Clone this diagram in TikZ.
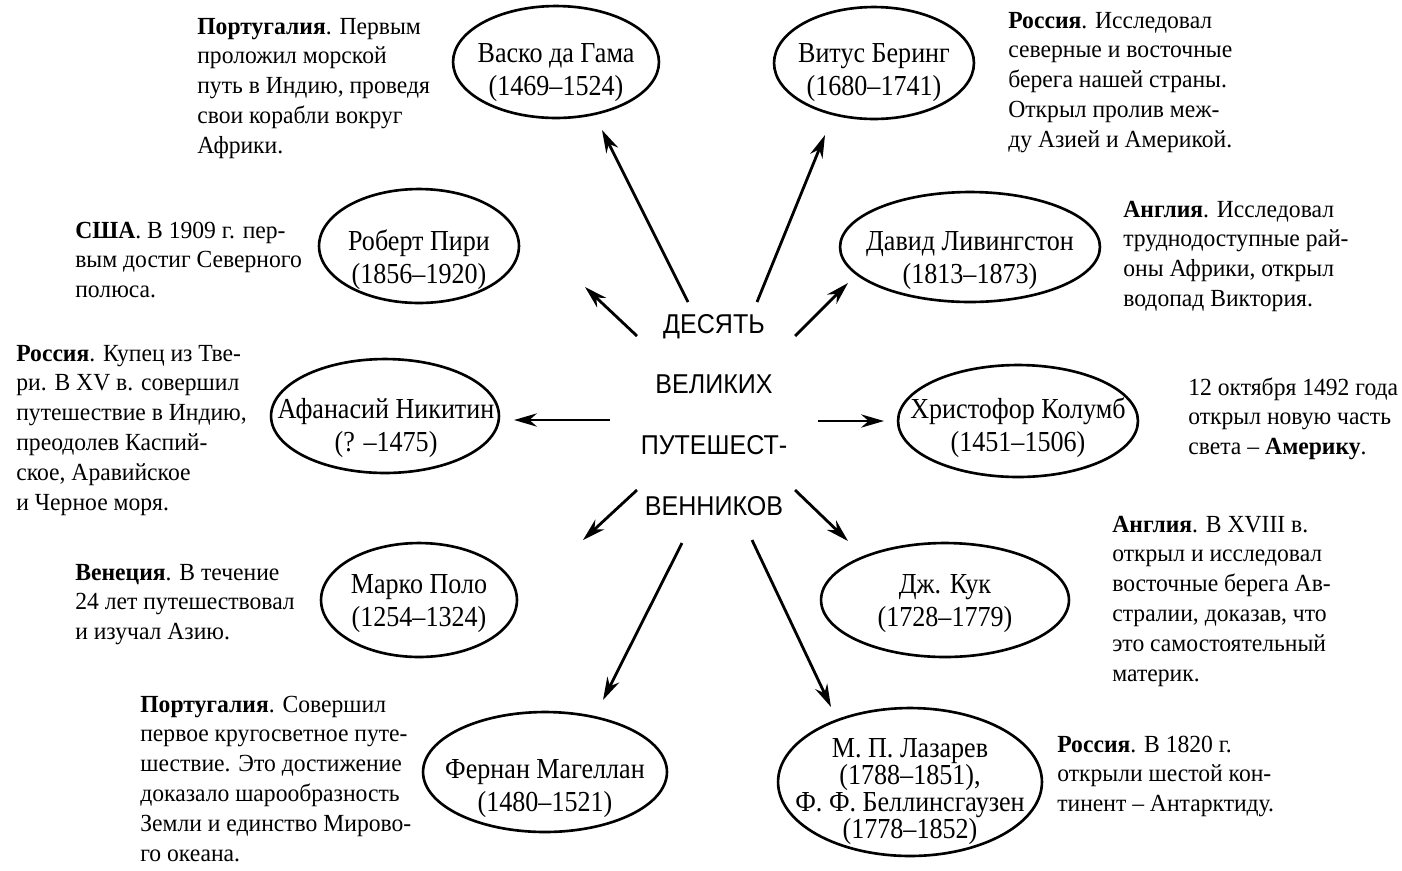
\documentclass[tikz,border=0pt]{standalone}
\usepackage{fontspec}
\setmainfont[FakeStretch=0.96]{Liberation Serif}
\newfontfamily\ellf[FakeStretch=0.9]{Liberation Serif}
\newfontfamily\sansf[FakeStretch=0.92]{Liberation Sans}
\usetikzlibrary{shapes.geometric,arrows.meta}
\newcommand{\blkL}[1]{\vtop{\lineskiplimit=-50pt\halign{##\hfil\cr#1\crcr}}}
\newcommand{\blkC}[1]{\vtop{\lineskiplimit=-50pt\halign{\hfil##\hfil\cr#1\crcr}}}
\begin{document}
\begin{tikzpicture}[x=0.02cm,y=-0.02cm,
  ell/.style 2 args={draw, ellipse, line width=1.5pt, inner sep=0pt, outer sep=0pt,
    minimum width={#1*0.04cm}, minimum height={#2*0.04cm}},
  etext/.style={anchor=base, inner sep=0pt, font=\ellf\fontsize{16.5}{19.3}\selectfont},
  ltext/.style={anchor=base, inner sep=0pt, font=\ellf\fontsize{16.5}{15.4}\selectfont},
  desc/.style={anchor=base west, inner sep=0pt, font=\fontsize{14}{17}\selectfont},
  ttl/.style={anchor=base, inner sep=0pt, font=\sansf\fontsize{15.5}{18}\selectfont},
  arr/.style={line width=1.6pt, -{Stealth[length=13pt,width=7.5pt]}}]
\useasboundingbox (0,0) rectangle (1402,870);

% ellipses
\node[ell={103}{56}] (vasco) at (556,62) {};
\node[ell={100}{56}] (bering) at (874,63) {};
\node[ell={100}{57}] (piri) at (419,246) {};
\node[ell={130}{55}] (living) at (970,247) {};
\node[ell={114}{57}] (nikitin) at (385,416) {};
\node[ell={120}{56}] (columb) at (1018,421) {};
\node[ell={98}{57}] (marco) at (419,600) {};
\node[ell={124}{57}] (cook) at (945,600) {};
\node[ell={122}{60}] (magellan) at (545,772) {};
\node[ell={132}{74}] (lazarev) at (910,782) {};

% ellipse texts
\node[etext] (vascoT) at (556,62) {\blkC{Васко да Гама\cr(1469–1524)}};
\node[etext] (beringT) at (874,62) {\blkC{Витус Беринг\cr(1680–1741)}};
\node[etext] (piriT) at (419,250) {\blkC{Роберт Пири\cr(1856–1920)}};
\node[etext] (livingT) at (970,250) {\blkC{Давид Ливингстон\cr(1813–1873)}};
\node[etext] (nikitinT) at (386,418) {\blkC{Афанасий Никитин\cr(? –1475)}};
\node[etext] (columbT) at (1018,418) {\blkC{Христофор Колумб\cr(1451–1506)}};
\node[etext] (marcoT) at (419,593) {\blkC{Марко Поло\cr(1254–1324)}};
\node[etext] (cookT) at (945,593) {\blkC{Дж. Кук\cr(1728–1779)}};
\node[etext] (magellanT) at (545,778) {\blkC{Фернан Магеллан\cr(1480–1521)}};
\node[ltext] (lazarevT) at (910,757) {\blkC{М. П. Лазарев\cr(1788–1851),\cr Ф. Ф. Беллинсгаузен\cr(1778–1852)}};

% centre title
\node[ttl] (t1) at (714,333) {ДЕСЯТЬ};
\node[ttl] (t2) at (714,393) {ВЕЛИКИХ};
\node[ttl] (t3) at (714,454) {ПУТЕШЕСТ-};
\node[ttl] (t4) at (714,515) {ВЕННИКОВ};

% descriptions
\node[desc] (dVasco) at (197,34) {\blkL{\textbf{Португалия}. Первым\cr проложил морской\cr путь в Индию, проведя\cr свои корабли вокруг\cr Африки.}};
\node[desc] (dBering) at (1008,28) {\blkL{\textbf{Россия}. Исследовал\cr северные и восточные\cr берега нашей страны.\cr Открыл пролив меж-\cr ду Азией и Америкой.}};
\node[desc] (dPiri) at (75,238) {\blkL{\textbf{США}. В 1909 г. пер-\cr вым достиг Северного\cr полюса.}};
\node[desc] (dLiving) at (1123,217) {\blkL{\textbf{Англия}. Исследовал\cr труднодоступные рай-\cr оны Африки, открыл\cr водопад Виктория.}};
\node[desc] (dNikitin) at (16,361) {\blkL{\textbf{Россия}. Купец из Тве-\cr ри. В XV в. совершил\cr путешествие в Индию,\cr преодолев Каспий-\cr ское, Аравийское\cr и Черное моря.}};
\node[desc] (dColumb) at (1188,395) {\blkL{12 октября 1492 года\cr открыл новую часть\cr света – \textbf{Америку}.}};
\node[desc] (dMarco) at (75,580) {\blkL{\textbf{Венеция}. В течение\cr 24 лет путешествовал\cr и изучал Азию.}};
\node[desc] (dCook) at (1112,532) {\blkL{\textbf{Англия}. В XVIII в.\cr открыл и исследовал\cr восточные берега Ав-\cr стралии, доказав, что\cr это самостоятельный\cr материк.}};
\node[desc] (dMagellan) at (140,712) {\blkL{\textbf{Португалия}. Совершил\cr первое кругосветное путе-\cr шествие. Это достижение\cr доказало шарообразность\cr Земли и единство Мирово-\cr го океана.}};
\node[desc] (dLazarev) at (1057,752) {\blkL{\textbf{Россия}. В 1820 г.\cr открыли шестой кон-\cr тинент – Антарктиду.}};

% arrow ends
\coordinate (s1) at (688,302);  \coordinate (e1) at (602,130);
\coordinate (s2) at (757,302);  \coordinate (e2) at (825,135);
\coordinate (s3) at (637,336);  \coordinate (e3) at (585,287);
\coordinate (s4) at (795,336);  \coordinate (e4) at (848,283);
\coordinate (s5) at (610,420);  \coordinate (e5) at (514,420);
\coordinate (s6) at (818,421);  \coordinate (e6) at (884,421);
\coordinate (s7) at (637,490);  \coordinate (e7) at (583,540);
\coordinate (s8) at (795,490);  \coordinate (e8) at (848,541);
\coordinate (s9) at (682,543);  \coordinate (e9) at (603,700);
\coordinate (s10) at (752,540); \coordinate (e10) at (831,707);

\draw[arr] (s1) -- (e1);
\draw[arr] (s2) -- (e2);
\draw[arr] (s3) -- (e3);
\draw[arr] (s4) -- (e4);
\draw[arr] (s5) -- (e5);
\draw[arr] (s6) -- (e6);
\draw[arr] (s7) -- (e7);
\draw[arr] (s8) -- (e8);
\draw[arr] (s9) -- (e9);
\draw[arr] (s10) -- (e10);
\end{tikzpicture}
\end{document}
